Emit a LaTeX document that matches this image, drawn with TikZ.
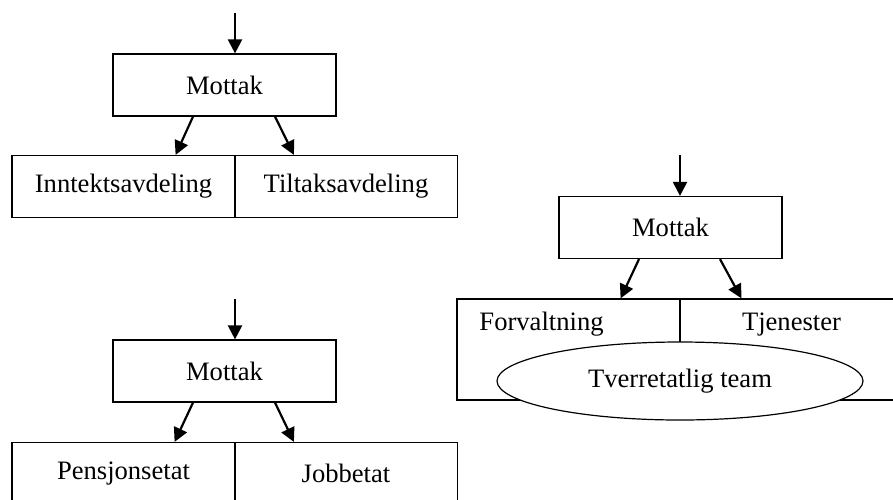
\documentclass[tikz,border=0pt]{standalone}
\usepackage{fontspec}
\setmainfont{Liberation Serif}
\usetikzlibrary{arrows.meta,shapes.geometric}

\tikzstyle{bS}=[rectangle,draw,line width=0.6pt,minimum width=111.5pt,minimum height=31pt,inner sep=0pt,font=\fontsize{13.3}{16}\selectfont]
\tikzstyle{tS}=[bS,minimum height=50.5pt]
\tikzstyle{lS}=[font=\fontsize{13.3}{16}\selectfont,yshift=-13pt]
\tikzstyle{oS}=[ellipse,draw,fill=white,line width=0.6pt,minimum width=183pt,minimum height=39pt,inner sep=0pt,font=\fontsize{13.3}{16}\selectfont]
\tikzstyle{aS}=[line width=1.1pt,-{Triangle[length=7pt,width=7pt]}]

\begin{document}
\begin{tikzpicture}[x=0.5pt,y=-0.5pt]
                \useasboundingbox (0,0) rectangle (893,499);
                % top left
                \draw (224.5,85) node[bS] (m1) {Mottak};
                \draw (123.5,186.5) node[bS] (i1) {Inntektsavdeling};
                \draw (346,186.5) node[bS] (t1) {Tiltaksavdeling};
                \coordinate (in1) at (235,13);
                % bottom left
                \draw (224.5,371) node[bS] (m2) {Mottak};
                \draw (123.5,473.5) node[bS] (p2) {Pensjonsetat};
                \draw (346,473.5) node[bS] (j2) {Jobbetat};
                \coordinate (in2) at (235,299);
                % right
                \draw (670.5,227.5) node[bS] (m3) {Mottak};
                \draw (568.5,349.5) node[tS,label={[lS,anchor=west,xshift=8pt]north west:Forvaltning}] (f3) {};
                \draw (791.5,349.5) node[tS,label={[lS,anchor=center]north:Tjenester}] (s3) {};
                \draw (680,381) node[oS] (e3) {Tverretatlig team};
                \coordinate (in3) at (680,155);
                \path
                    (in1) edge[aS] (in1 |- m1.north)
                    ([xshift=-15.75pt]m1.south) edge[aS] ([xshift=-30pt]i1.north east)
                    ([xshift=25.25pt]m1.south) edge[aS] ([xshift=30pt]t1.north west)
                    (in2) edge[aS] (in2 |- m2.north)
                    ([xshift=-15.75pt]m2.south) edge[aS] ([xshift=-30.5pt]p2.north east)
                    ([xshift=25.25pt]m2.south) edge[aS] ([xshift=30pt]j2.north west)
                    (in3) edge[aS] (in3 |- m3.north)
                    ([xshift=-15.75pt]m3.south) edge[aS] ([xshift=-30pt]f3.north east)
                    ([xshift=24.75pt]m3.south) edge[aS] ([xshift=31pt]s3.north west)
                ;
        \end{tikzpicture}
\end{document}
